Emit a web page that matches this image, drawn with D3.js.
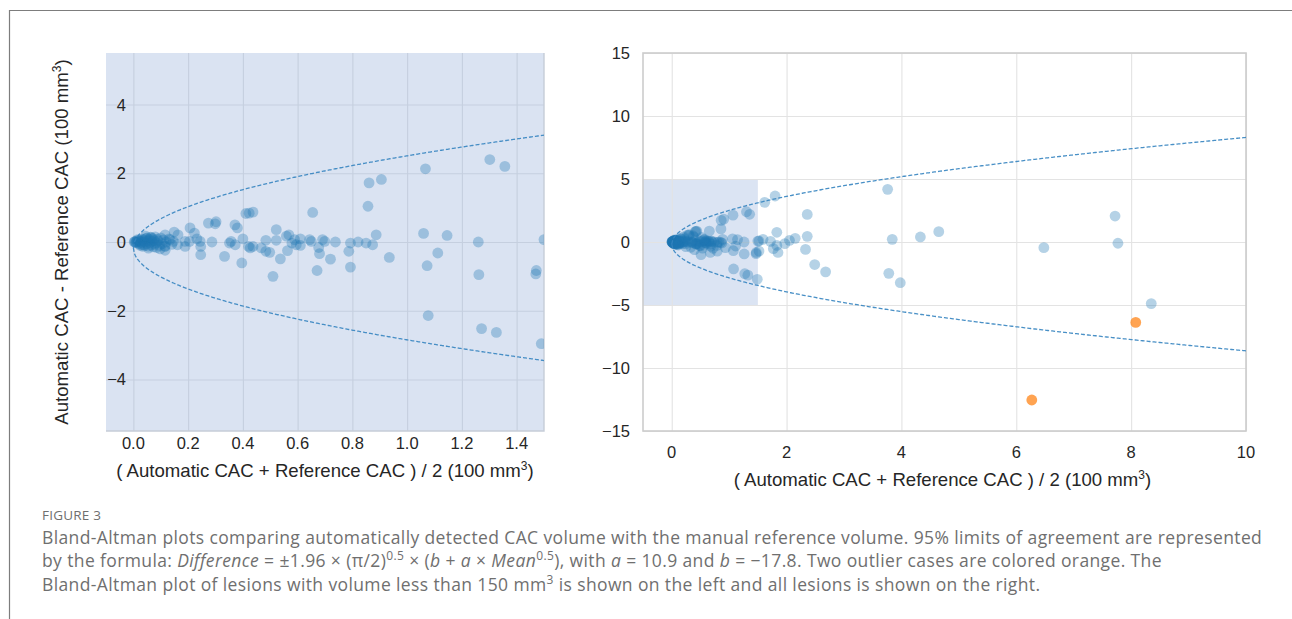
<!DOCTYPE html>
<html><head><meta charset="utf-8">
<script src="https://cdn.jsdelivr.net/npm/d3@7"></script>
<style>
html,body{margin:0;padding:0;background:#fff;}
svg{display:block;}
</style></head>
<body>
<svg id="fig" width="1292" height="619"></svg>
<script>
// ---------- DATA ----------
// Mean of automatic and reference CAC (100 mm^3) and their difference (100 mm^3)
const meanVals = [
  // dense cluster near zero
  0.005,0.01,0.012,0.015,0.018,0.02,0.022,0.025,0.028,0.03,0.032,0.035,0.038,0.04,0.042,0.045,0.048,0.05,0.053,0.055,
  0.058,0.06,0.063,0.065,0.068,0.07,0.073,0.075,0.078,0.08,0.083,0.085,0.088,0.09,0.095,0.1,0.105,0.11,0.115,0.12,
  0.13,0.14,0.008,0.003,0.015,0.025,0.035,0.045,0.055,0.065,
  // 0.1 - 0.3
  0.116,0.116,0.189,0.232,0.244,0.246,0.246,0.189,0.205,0.134,0.146,0.161,0.098,0.116,0.149,0.163,0.223,0.207,
  0.274,0.299,0.302,0.287,
  // 0.3 - 0.9
  0.371,0.380,0.411,0.423,0.437,0.357,0.351,0.372,0.400,0.484,0.522,0.589,0.610,0.644,0.650,0.691,0.699,0.738,
  0.793,0.821,0.850,0.874,0.579,0.595,0.421,0.437,0.427,0.467,0.484,0.498,0.563,0.610,0.677,0.680,0.720,0.787,
  0.537,0.333,0.396,0.510,0.671,0.793,0.522,0.568,0.559,0.655,0.861,0.906,0.857,0.887,0.935,
  // 0.9 - 1.5
  1.067,1.302,1.357,1.060,1.146,1.260,1.500,1.112,1.073,1.262,1.472,1.077,1.272,1.326,1.490,
  // beyond 1.5
  1.62,1.80,2.36,2.36,2.33,1.83,2.15,2.05,1.97,1.83,1.77,1.85,1.59,1.52,1.72,1.52,1.47,2.49,2.68,
  3.76,3.84,4.33,4.65,3.78,3.98,6.48,7.72,7.77,8.35
];
const diffVals = [
  0.01,-0.02,0.03,0.0,-0.04,0.05,0.02,-0.06,0.04,-0.01,0.08,-0.08,0.06,0.0,-0.1,0.1,-0.05,0.12,0.03,-0.12,
  0.07,-0.03,0.14,-0.09,0.02,0.1,-0.14,0.05,-0.06,0.15,-0.02,-0.16,0.08,0.03,-0.1,0.12,-0.05,0.06,-0.12,0.0,
  0.09,-0.07,0.0,0.0,0.07,-0.1,-0.13,0.17,-0.18,0.13,
  0.21,-0.13,-0.13,0.09,0.02,-0.13,-0.37,0.02,0.02,0.07,0.02,-0.08,-0.2,-0.24,0.29,0.21,0.26,0.41,
  0.55,0.53,0.59,0.0,
  0.50,0.41,0.83,0.84,0.87,0.02,-0.03,-0.08,0.09,0.05,0.05,0.07,0.09,0.07,0.02,0.07,0.02,0.0,
  -0.03,0.0,-0.03,-0.08,-0.03,-0.08,-0.13,-0.13,-0.17,-0.17,-0.27,-0.30,-0.25,-0.10,-0.16,-0.34,-0.50,-0.27,
  -0.49,-0.42,-0.61,-1.0,-0.83,-0.73,0.36,0.21,0.17,0.86,1.72,1.82,1.04,0.21,-0.45,
  2.13,2.40,2.20,0.25,0.19,0.0,0.07,-0.32,-0.69,-0.95,-0.83,-2.14,-2.52,-2.63,-2.96,
  3.15,3.65,2.19,0.45,-0.59,0.77,0.29,0.13,-0.13,-0.27,-0.53,-0.83,0.21,0.08,0.05,-0.72,-0.93,-1.79,-2.37,
  4.18,0.21,0.40,0.82,-2.49,-3.23,-0.45,2.06,-0.10,-4.89
];
// two outlier cases (orange)
const outlierMean = [8.08, 6.27];
const outlierDiff = [-6.38, -12.54];

const leftXTicks = [0.0,0.2,0.4,0.6,0.8,1.0,1.2,1.4];
const leftYTicks = [-4,-2,0,2,4];
const rightXTicks = [0,2,4,6,8,10];
const rightYTicks = [-15,-10,-5,0,5,10,15];

// limits of agreement parameters (from caption)
const LOA_A = 10.9;
const LOA_BIAS = -0.17;
const LOA_K = 1.96 * Math.sqrt(Math.PI/2) * LOA_A * 10 / 100;

// ---------- DRAW ----------
const svg = d3.select("#fig");
const FONT = "'Liberation Sans', Arial, Helvetica, sans-serif";
const minus = s => String(s).replace("-", "\u2212");

// outer frame (top + left border)
svg.append("path").attr("d","M9.5,619 L9.5,10.5 L1292,10.5")
  .attr("fill","none").attr("stroke","#7d7d7d").attr("stroke-width",1.2);

const points = meanVals.map((m,i)=>({m, d: diffVals[i]}));
const outliers = outlierMean.map((m,i)=>({m, d: outlierDiff[i]}));

function panel(opt){
  const x = d3.scaleLinear().domain(opt.xDomain).range(opt.xRange);
  const y = d3.scaleLinear().domain(opt.yDomain).range(opt.yRange);
  const g = svg.append("g");
  const clipId = "clip" + opt.id;
  svg.append("defs").append("clipPath").attr("id", clipId)
    .append("rect").attr("x", opt.xRange[0]).attr("y", opt.yRange[1])
    .attr("width", opt.xRange[1]-opt.xRange[0]).attr("height", opt.yRange[0]-opt.yRange[1]);

  g.append("rect").attr("x", opt.xRange[0]).attr("y", opt.yRange[1])
    .attr("width", opt.xRange[1]-opt.xRange[0]).attr("height", opt.yRange[0]-opt.yRange[1])
    .attr("fill", opt.bg);

  if (opt.inset){
    g.append("rect").attr("x", x(opt.inset[0])).attr("y", y(opt.inset[3]))
      .attr("width", x(opt.inset[1]) - x(opt.inset[0]))
      .attr("height", y(opt.inset[2]) - y(opt.inset[3]))
      .attr("fill", "#dbe4f3");
  }

  g.append("g").attr("transform", `translate(0,${opt.yRange[0]})`)
    .call(d3.axisBottom(x).tickValues(opt.xTicks).tickSize(-(opt.yRange[0]-opt.yRange[1])).tickFormat(""))
    .call(s => s.select(".domain").remove())
    .call(s => s.selectAll("line").attr("stroke", opt.grid).attr("stroke-width", 1.1));
  g.append("g").attr("transform", `translate(${opt.xRange[0]},0)`)
    .call(d3.axisLeft(y).tickValues(opt.yTicks).tickSize(-(opt.xRange[1]-opt.xRange[0])).tickFormat(""))
    .call(s => s.select(".domain").remove())
    .call(s => s.selectAll("line").attr("stroke", opt.grid).attr("stroke-width", 1.1));

  if (opt.frame === "full"){
    g.append("rect").attr("x", opt.xRange[0]).attr("y", opt.yRange[1])
      .attr("width", opt.xRange[1]-opt.xRange[0]).attr("height", opt.yRange[0]-opt.yRange[1])
      .attr("fill","none").attr("stroke","#cccccc").attr("stroke-width",1.6);
  } else {
    g.append("path")
      .attr("d", `M${opt.xRange[1]},${opt.yRange[1]} L${opt.xRange[1]},${opt.yRange[0]} L${opt.xRange[0]},${opt.yRange[0]}`)
      .attr("fill","none").attr("stroke","#c6cdd8").attr("stroke-width",1.4);
  }

  const plot = g.append("g").attr("clip-path", `url(#${clipId})`);

  plot.selectAll("circle.pt").data(points).join("circle")
    .attr("class","pt")
    .attr("cx", d => x(d.m)).attr("cy", d => y(d.d)).attr("r", 5.4)
    .attr("fill", "#1f77b4").attr("fill-opacity", 0.33);
  plot.selectAll("circle.out").data(outliers).join("circle")
    .attr("class","out")
    .attr("cx", d => x(d.m)).attr("cy", d => y(d.d)).attr("r", 5.4)
    .attr("fill", "#ff7f0e").attr("fill-opacity", 0.72);

  const xs = d3.range(0, opt.xDomain[1] + 0.0001, opt.xDomain[1] / 400);
  const line = d3.line().x(d => x(d[0])).y(d => y(d[1]));
  [1, -1].forEach(sgn => {
    plot.append("path")
      .datum(xs.map(v => [v, LOA_BIAS + sgn * LOA_K * Math.sqrt(v)]))
      .attr("d", line).attr("fill","none")
      .attr("stroke", "#3584c0").attr("stroke-opacity", 0.9)
      .attr("stroke-width", 1.3).attr("stroke-dasharray", "4,2");
  });

  g.selectAll("text.xt").data(opt.xTicks).join("text")
    .attr("class","xt").attr("x", d => x(d)).attr("y", opt.xTickY)
    .attr("text-anchor","middle").attr("font-family", FONT).attr("font-size", 16.5)
    .attr("fill","#262626").text(d => minus(opt.xFmt(d)));
  g.selectAll("text.yt").data(opt.yTicks).join("text")
    .attr("class","yt").attr("x", opt.yTickX).attr("y", d => y(d) + 6)
    .attr("text-anchor","end").attr("font-family", FONT).attr("font-size", 16.5)
    .attr("fill","#262626").text(d => minus(d));

  const xl = g.append("text").attr("x", (opt.xRange[0]+opt.xRange[1])/2 + opt.xLabelDx).attr("y", opt.xLabelY)
    .attr("text-anchor","middle").attr("font-family", FONT).attr("font-size", 18.6).attr("fill","#262626");
  xl.append("tspan").text("( Automatic CAC + Reference CAC ) / 2 (100 mm");
  xl.append("tspan").attr("font-size", 12).attr("dy", -7.5).text("3");
  xl.append("tspan").attr("dy", 7.5).text(")");

  if (opt.yLabel){
    const cy = (opt.yRange[0]+opt.yRange[1])/2;
    const yl = g.append("text").attr("transform", `translate(${opt.yLabelX},${cy}) rotate(-90)`)
      .attr("text-anchor","middle").attr("font-family", FONT).attr("font-size", 18.6).attr("fill","#262626");
    yl.append("tspan").text("Automatic CAC - Reference CAC (100 mm");
    yl.append("tspan").attr("font-size", 12).attr("dy", -7.5).text("3");
    yl.append("tspan").attr("dy", 7.5).text(")");
  }
}

panel({
  id: "L", xDomain: [-0.1, 1.5], yDomain: [-5.5, 5.5],
  xRange: [106, 544], yRange: [431, 53],
  xTicks: leftXTicks, yTicks: leftYTicks,
  xFmt: d3.format(".1f"),
  bg: "#dae3f2", grid: "#c5cfdf", frame: "partial",
  xTickY: 449, yTickX: 126, xLabelY: 477, xLabelDx: 0,
  yLabel: true, yLabelX: 68
});

panel({
  id: "R", xDomain: [-0.5, 10], yDomain: [-15, 15],
  xRange: [643, 1246], yRange: [431, 53],
  xTicks: rightXTicks, yTicks: rightYTicks,
  xFmt: d => d,
  bg: "#ffffff", grid: "#e3e3e3", frame: "full",
  inset: [-0.5, 1.5, -5, 5],
  xTickY: 458, yTickX: 630, xLabelY: 486, xLabelDx: -2,
  yLabel: false
});

// ---------- CAPTION ----------
const CAP = "'Open Sans', Lato, sans-serif";
const capColor = "#6f6f6f";
svg.append("text").attr("x", 42).attr("y", 520).attr("font-family", CAP)
  .attr("font-size", 13.5).attr("fill", capColor).attr("letter-spacing", 0.2).text("FIGURE 3");

const CAP_SIZE = 17.5;
const CAP_LS = 0.38;
const cap1 = svg.append("text").attr("x", 42).attr("y", 544).attr("font-family", CAP)
  .attr("font-size", CAP_SIZE).attr("letter-spacing", CAP_LS).attr("fill", capColor);
cap1.text("Bland-Altman plots comparing automatically detected CAC volume with the manual reference volume. 95% limits of agreement are represented");

const cap2 = svg.append("text").attr("x", 42).attr("y", 567).attr("font-family", CAP)
  .attr("font-size", CAP_SIZE).attr("letter-spacing", CAP_LS).attr("fill", capColor);
[
  ["by the formula: ", false], ["Difference", true], [" = \u00b11.96 \u00d7 (\u03c0/2)", false],
  ["0.5", false, "sup"], [" \u00d7 (", false], ["b", true], [" + ", false], ["a", true], [" \u00d7 ", false],
  ["Mean", true], ["0.5", false, "sup"], ["), with ", false], ["a", true],
  [" = 10.9 and ", false], ["b", true], [" = \u221217.8. Two outlier cases are colored orange. The", false]
].forEach(([t, it, sup], i, arr) => {
  const ts = cap2.append("tspan").text(t);
  if (it) ts.attr("font-style","italic");
  if (sup) ts.attr("font-size", 12).attr("dy", -7);
  else if (i > 0 && arr[i-1][2]) ts.attr("dy", 7);
});

const cap3 = svg.append("text").attr("x", 42).attr("y", 591).attr("font-family", CAP)
  .attr("font-size", CAP_SIZE).attr("letter-spacing", CAP_LS).attr("fill", capColor);
cap3.append("tspan").text("Bland-Altman plot of lesions with volume less than 150 mm");
cap3.append("tspan").attr("font-size", 12).attr("dy", -7).text("3");
cap3.append("tspan").attr("dy", 7).text(" is shown on the left and all lesions is shown on the right.");
</script>
</body></html>
